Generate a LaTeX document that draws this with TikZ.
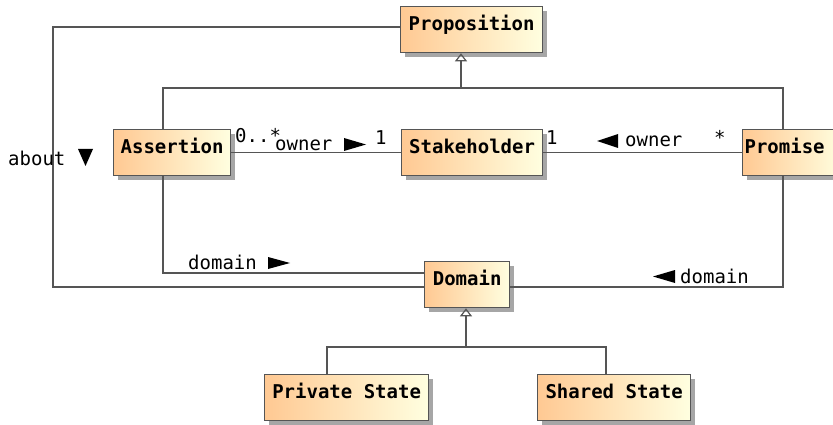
\documentclass[tikz,border=0pt]{standalone}
\usepackage{fontspec}
\newfontfamily\monofnt{DejaVu Sans Mono}
\usetikzlibrary{arrows.meta,shadows}
\definecolor{lc}{HTML}{555555}
\definecolor{peach}{HTML}{FFC993}
\definecolor{cream}{HTML}{FFFFE0}
\tikzset{
  cls/.style={draw=lc, line width=1.3pt, left color=peach, right color=cream,
    anchor=north west, inner sep=0pt, minimum height=46pt,
    text height=14pt, text depth=12pt,
    font=\monofnt\bfseries\fontsize{19}{22}\selectfont,
    drop shadow={shadow xshift=4pt, shadow yshift=-4pt, fill=black!35, opacity=1}},
  conn/.style={draw=lc, line width=1.2pt},
  gen/.style={conn, -{Triangle[open, width=12pt, length=8pt, line width=1.2pt]}},
  lbl/.style={anchor=base west, inner sep=0pt, font=\monofnt\fontsize{19}{22}\selectfont},
  tri/.style={fill=black}
}
\begin{document}
\begin{tikzpicture}[x=1pt,y=-1pt]
\useasboundingbox[fill=white] (0,0) rectangle (833,425);
% classes
\node[cls, minimum width=142pt] (Proposition) at (400,6) {Proposition};
\node[cls, minimum width=117pt] (Assertion) at (113,129) {Assertion};
\node[cls, minimum width=141pt] (Stakeholder) at (401,129) {Stakeholder};
\node[cls, minimum width=100pt] (Promise) at (742,129) {\hspace*{-16pt}Promise};
\node[cls, minimum width=85pt] (Domain) at (424,261) {Domain};
\node[cls, minimum width=164pt] (Private) at (264,374) {Private State};
\node[cls, minimum width=153pt] (Shared) at (537,374) {Shared State};
% generalization to Proposition
\coordinate (gj) at (461,88);
\draw[conn] (Assertion.north -| 163,0) |- (gj) -| (Promise.north -| 783,0);
\draw[gen] (gj) -- (Proposition.south -| gj);
% generalization to Domain
\coordinate (dj) at (466,347);
\draw[conn] (Private.north -| 327,0) |- (dj) -| (Shared.north -| 606,0);
\draw[gen] (dj) -- (Domain.south -| dj);
% owner associations
\draw[conn] (Assertion) -- (Stakeholder);
\draw[conn] (Stakeholder) -- (Promise);
% about
\coordinate (ab1) at (53,27);
\coordinate (ab2) at (53,287);
\draw[conn] (Proposition.west |- ab1) -- (ab1) -- (ab2) -- (Domain.west |- ab2);
% domain associations
\coordinate (ad) at (163,273);
\draw[conn] (Assertion.south -| ad) -- (ad) -- (Domain.west |- ad);
\coordinate (pd) at (783,287);
\draw[conn] (Domain.east |- pd) -- (pd) -- (Promise.south -| pd);
% labels
\node[lbl] (lab) at (8,166) {about};
\fill[tri] (78,149) -- (93,149) -- (85.5,166) -- cycle;
\node[lbl] (m1) at (235,143) {0..*};
\node[lbl] (o1) at (275,150) {owner};
\fill[tri] (344,138) -- (366,144.5) -- (344,151) -- cycle;
\node[lbl] (m2) at (375,145) {1};
\node[lbl] (m3) at (546,145) {1};
\fill[tri] (618,134) -- (597,141) -- (618,148) -- cycle;
\node[lbl] (o2) at (625,147) {owner};
\node[lbl] (m4) at (714,145) {*};
\node[lbl] (d1) at (188,269) {domain};
\fill[tri] (268,257) -- (290,263) -- (268,269) -- cycle;
\fill[tri] (675,270) -- (653,276.5) -- (675,283) -- cycle;
\node[lbl] (d2) at (680,283) {domain};
\end{tikzpicture}
\end{document}
